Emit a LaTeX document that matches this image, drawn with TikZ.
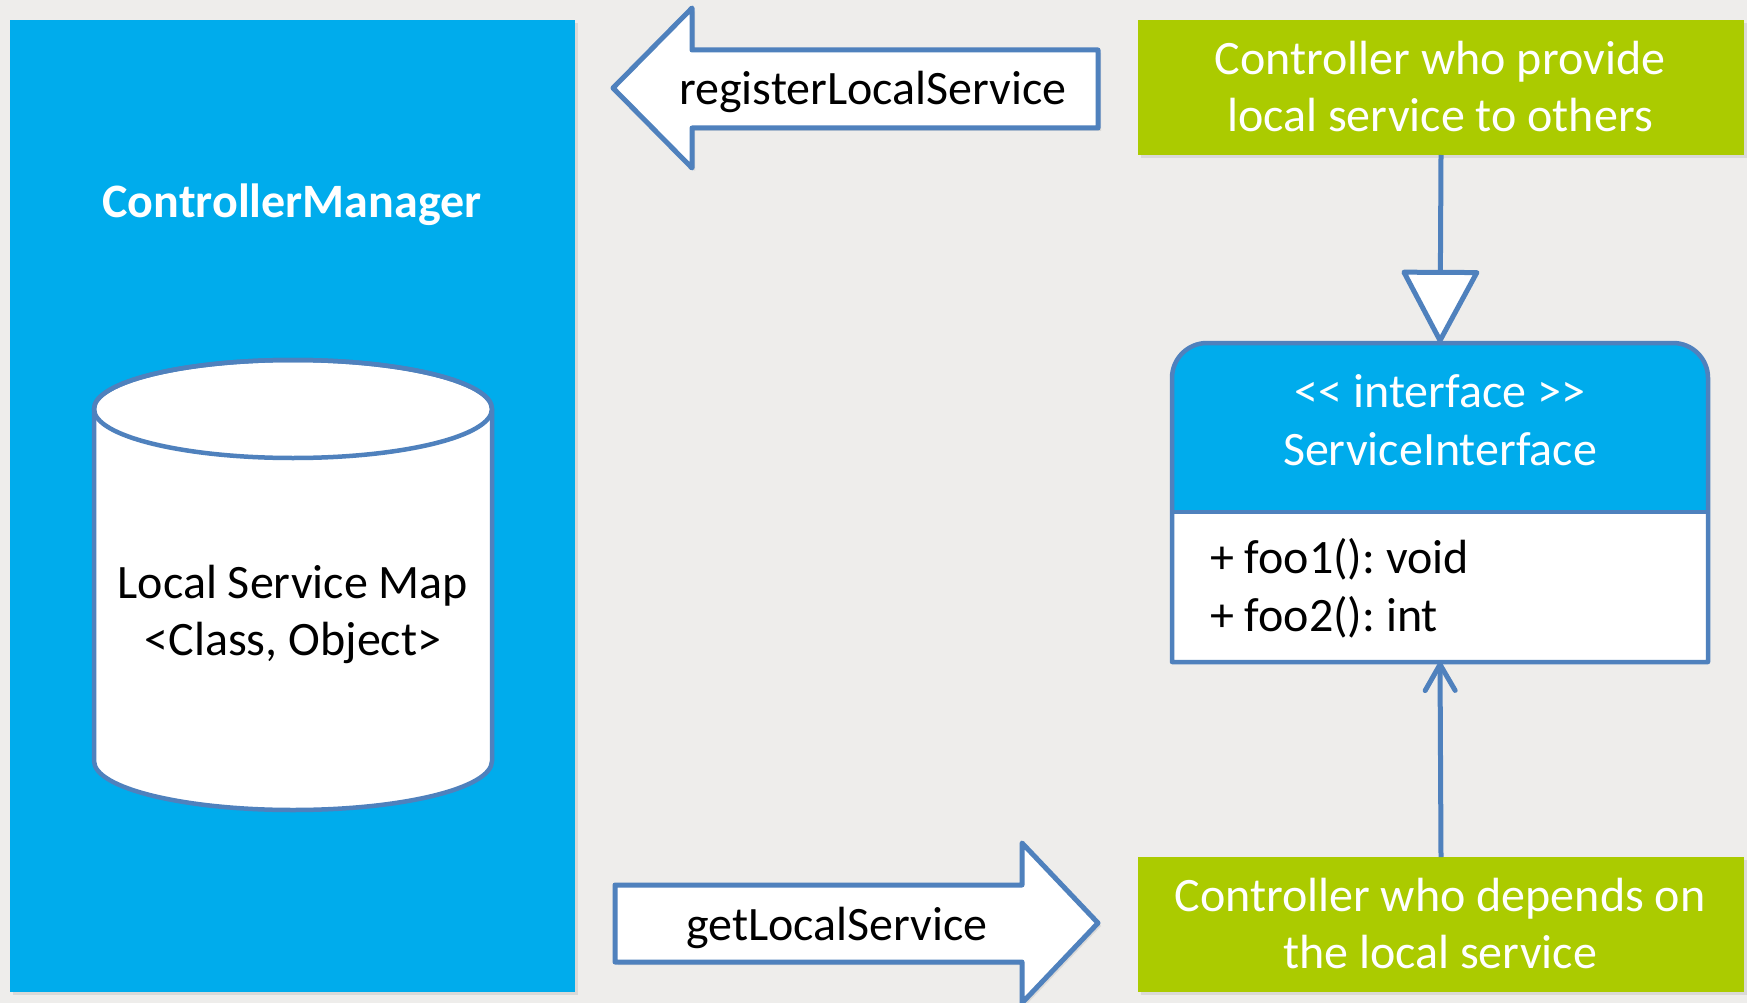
\documentclass[tikz,border=0pt]{standalone}
\usepackage{fontspec}
\setmainfont{Carlito}
\usetikzlibrary{arrows.meta,shadows}
\definecolor{bgc}{HTML}{EEEDEB}
\definecolor{cmblue}{HTML}{00ACEC}
\definecolor{lime}{HTML}{ABCB00}
\definecolor{edgec}{HTML}{4F81BD}
\frenchspacing
\begin{document}
\begin{tikzpicture}[x=1pt,y=-1pt,
  every node/.style={inner sep=0pt, outer sep=0pt},
  txt/.style={font=\fontsize{48}{57}\selectfont, anchor=base},
  wtxt/.style={txt, text=white},
  btxt/.style={txt, text=black},
  shd/.style={drop shadow={opacity=0.18, shadow xshift=3pt, shadow yshift=-3pt}},
  greenbox/.style={fill=lime, minimum width=606pt, minimum height=135pt, shd},
  outl/.style={draw=edgec, line width=5pt, line join=round},
  conn/.style={draw=edgec, line width=5pt}]
\fill[bgc] (0,0) rectangle (1747,1003);
\useasboundingbox (0,0) rectangle (1747,1003);

% ControllerManager panel
\node[fill=cmblue, minimum width=565pt, minimum height=972pt, shd] (cm) at (292.5,506) {};
\node[wtxt, font=\fontsize{48}{57}\selectfont\bfseries] (cmt) at (292,217) {ControllerManager};

% cylinder
\draw[outl, line width=4.5pt, fill=white]
  (94,409) -- (94,761) arc[start angle=180, end angle=360, x radius=199pt, y radius=49pt]
  -- (492,409) arc[start angle=0, end angle=180, x radius=199pt, y radius=49pt] -- cycle;
\draw[outl, line width=4.5pt] (293,409) ellipse[x radius=199pt, y radius=49pt];
\node[btxt] (map1) at (293,598) {Local Service Map};
\node[btxt] (map2) at (293,655) {<Class, Object>};

% block arrow: registerLocalService
\draw[outl, fill=white, shd] (613,88) -- (692,8) -- (692,50) -- (1098,50) -- (1098,128)
  -- (692,128) -- (692,168) -- cycle;
\node[btxt] (reg) at (873,105) {registerLocalService};

% block arrow: getLocalService
\draw[outl, fill=white, shd] (615,885) -- (1022,885) -- (1022,843) -- (1098,923)
  -- (1022,1003) -- (1022,962) -- (615,962) -- cycle;
\node[btxt] (get) at (837,940) {getLocalService};

% green boxes
\node[greenbox] (gtop) at (1441,87.5) {};
\node[wtxt] (gt1) at (1440,75) {Controller who provide};
\node[wtxt] (gt2) at (1440,132) {local service to others};
\node[greenbox] (gbot) at (1441,924.5) {};
\node[wtxt] (gb1) at (1440,911) {Controller who depends on};
\node[wtxt] (gb2) at (1440,968) {the local service};

% interface box
\coordinate (itop) at (1440,343);
\coordinate (ibot) at (1440,662);
\fill[cmblue] (1172,512) -- (1172,378) arc[start angle=180, end angle=90, radius=35pt]
  -- (1673,343) arc[start angle=90, end angle=0, radius=35pt] -- (1708,512) -- cycle;
\fill[white] (1172,512) rectangle (1708,662);
\draw[outl, line width=4.5pt] (1172,662) -- (1172,378) arc[start angle=180, end angle=90, radius=35pt]
  -- (1673,343) arc[start angle=90, end angle=0, radius=35pt] -- (1708,662) -- cycle;
\draw[outl, line width=4.5pt] (1172,512) -- (1708,512);
\node[wtxt] (st) at (1440,407) {<{}< interface >{}>};
\node[wtxt] (sn) at (1440,465) {ServiceInterface};
\node[btxt, anchor=base west] (f1) at (1210,573) {+ foo1(): void};
\node[btxt, anchor=base west] (f2) at (1210,631) {+ foo2(): int};

% connectors
\draw[conn, -{Triangle[open, fill=white, length=76pt, width=80pt, round]}] (gtop.south) -- (itop);
\draw[conn, -{Straight Barb[length=26pt, width=30pt, round]}] (gbot.north) -- (ibot);
\end{tikzpicture}
\end{document}
